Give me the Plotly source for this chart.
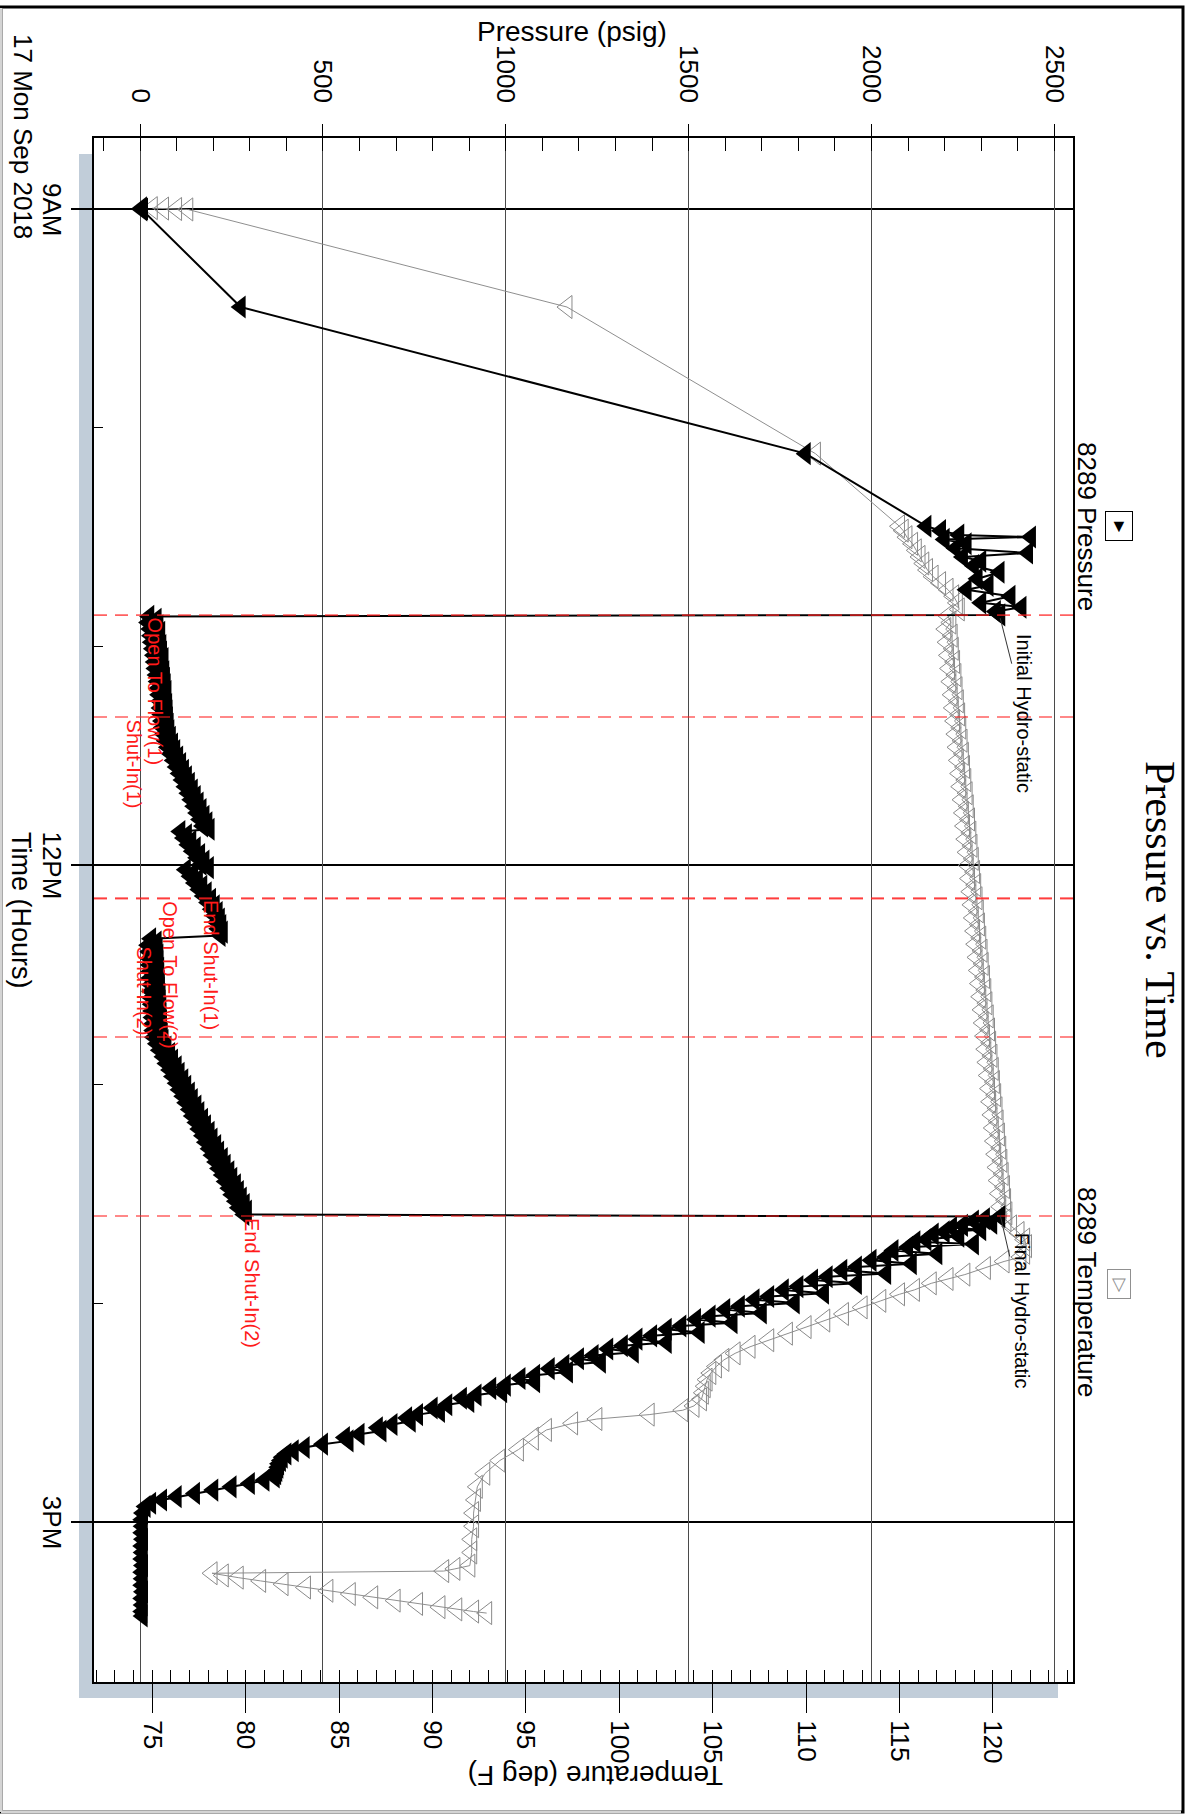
import plotly.graph_objects as go

# ---------------- data (time in decimal hours of 17 Sep 2018) ----------------
time_p = [8.995, 9.000, 9.004, 9.448, 10.118,
          10.45, 10.47, 10.49, 10.499, 10.51, 10.53, 10.55, 10.572, 10.59, 10.61, 10.63, 10.66,
          10.69, 10.72, 10.74, 10.77, 10.80, 10.82, 10.84, 10.855,
          # open to flow (1) / shut-in (1)
          10.862, 10.875, 10.89, 10.905, 10.92, 10.935, 10.95, 10.965, 10.98, 10.995, 11.01, 11.025,
          11.04, 11.055, 11.07, 11.085, 11.10, 11.115, 11.13, 11.145, 11.16, 11.175, 11.19, 11.205,
          11.22, 11.235, 11.25, 11.265, 11.28, 11.295, 11.31, 11.325, 11.34, 11.355, 11.37, 11.385,
          11.40, 11.415, 11.43, 11.445, 11.46, 11.475, 11.49, 11.505, 11.52, 11.535, 11.55, 11.565,
          11.58, 11.595, 11.61, 11.625, 11.64, 11.655, 11.67, 11.685, 11.70, 11.715, 11.73, 11.745,
          11.76, 11.775, 11.79, 11.805, 11.82, 11.835,
          11.845, 11.86, 11.875, 11.89, 11.905, 11.92, 11.935, 11.95, 11.965, 11.98, 11.995, 12.01,
          12.02, 12.035, 12.05, 12.065, 12.08, 12.095, 12.11, 12.125, 12.14, 12.155, 12.17, 12.185,
          12.20, 12.215, 12.23, 12.245, 12.26, 12.275, 12.29, 12.305, 12.32,
          # open to flow (2) / shut-in (2)
          12.335, 12.35, 12.365, 12.38, 12.395, 12.41, 12.425, 12.44, 12.455, 12.47, 12.485, 12.50,
          12.515, 12.53, 12.545, 12.56, 12.575, 12.59, 12.605, 12.62, 12.635, 12.65, 12.665, 12.68,
          12.695, 12.71, 12.725, 12.74, 12.755, 12.77, 12.785, 12.80, 12.815, 12.83, 12.845, 12.86,
          12.875, 12.89, 12.905, 12.92, 12.935, 12.95, 12.965, 12.98, 12.995, 13.01, 13.025, 13.04,
          13.055, 13.07, 13.085, 13.10, 13.115, 13.13, 13.145, 13.16, 13.175, 13.19, 13.205, 13.22,
          13.235, 13.25, 13.265, 13.28, 13.295, 13.31, 13.325, 13.34, 13.355, 13.37, 13.385, 13.40,
          13.415, 13.43, 13.445, 13.46, 13.475, 13.49, 13.505, 13.52, 13.535, 13.55, 13.565, 13.58,
          13.595,
          # final hydrostatic and pull out of hole
          13.605, 13.615, 13.625, 13.635, 13.645, 13.655, 13.665, 13.675, 13.685, 13.695, 13.71, 13.72,
          13.73, 13.745, 13.76, 13.775, 13.79, 13.805, 13.82, 13.835, 13.85, 13.865, 13.88, 13.895,
          13.91, 13.925, 13.94, 13.955, 13.97, 13.985, 14.00, 14.015, 14.03, 14.045, 14.06, 14.075,
          14.09, 14.105, 14.12, 14.135, 14.15, 14.165, 14.18, 14.195, 14.21, 14.225, 14.24, 14.255,
          14.27, 14.285, 14.30, 14.315, 14.33, 14.345, 14.36, 14.375, 14.39, 14.405, 14.42, 14.435,
          14.45, 14.465, 14.48, 14.495, 14.51, 14.525, 14.54, 14.555, 14.57, 14.585, 14.60, 14.615,
          14.63, 14.645, 14.66, 14.675, 14.69, 14.705, 14.72, 14.735, 14.75, 14.765, 14.78, 14.795,
          14.81, 14.825, 14.84, 14.855, 14.87, 14.885, 14.90, 14.915, 14.93,
          14.96, 14.99, 15.02, 15.05, 15.08, 15.11, 15.14, 15.17, 15.20, 15.23, 15.26, 15.29,
          15.32, 15.35, 15.38, 15.41, 15.43]
pressure = [5, 8, 6, 275, 1820,
            2150, 2190, 2240, 2436, 2200, 2260, 2230, 2428, 2250, 2300, 2280, 2350,
            2290, 2320, 2260, 2380, 2300, 2410, 2340, 2352,
            25, 45, 22, 50, 28, 55, 30, 52, 32, 58, 35, 60,
            38, 64, 40, 62, 42, 66, 45, 68, 48, 70, 50, 72,
            52, 70, 55, 74, 56, 75, 58, 76, 60, 78, 62, 80,
            65, 84, 70, 90, 76, 96, 84, 104, 92, 112, 100, 120,
            108, 128, 116, 136, 124, 144, 132, 152, 140, 160, 148, 168,
            156, 176, 164, 184, 172, 190,
            110, 128, 120, 140, 132, 152, 144, 164, 156, 176, 168, 188,
            125, 145, 138, 158, 150, 170, 162, 182, 174, 194, 186, 204,
            196, 212, 204, 218, 210, 222, 214, 226, 220,
            30, 45, 22, 48, 25, 50, 26, 50, 27, 52, 28, 52,
            28, 54, 30, 54, 30, 56, 31, 56, 32, 58, 33, 58,
            34, 60, 35, 60, 36, 62, 38, 64, 46, 72, 54, 82,
            64, 90, 72, 100, 82, 108, 90, 118, 100, 126, 108, 136,
            118, 144, 126, 154, 136, 162, 144, 172, 154, 180, 162, 190,
            172, 198, 180, 208, 190, 216, 198, 226, 208, 234, 216, 244,
            226, 252, 234, 262, 244, 270, 252, 278, 262, 286, 270, 292,
            285,
            2352, 2310, 2280, 2330, 2250, 2220, 2300, 2200, 2170, 2240, 2150, 2120,
            2280, 2100, 2060, 2180, 2040, 2000, 2110, 1960, 1920, 2040, 1880, 1840,
            1960, 1800, 1760, 1870, 1720, 1680, 1790, 1640, 1600, 1700, 1560, 1520,
            1620, 1480, 1440, 1530, 1400, 1360, 1440, 1320, 1280, 1350, 1240, 1200,
            1260, 1160, 1120, 1170, 1080, 1040, 1080, 1000, 960, 990, 920, 880,
            900, 840, 800, 820, 760, 730, 740, 690, 650, 660, 600, 560,
            570, 500, 450, 420, 400, 390, 385, 380, 378, 375, 372, 368,
            340, 300, 250, 200, 150, 100, 60, 30, 15,
            8, 6, 7, 6, 8, 6, 7, 6, 8, 6, 7, 6,
            8, 6, 7, 6, 7]

time_t = [8.996, 8.998, 9.000, 9.002, 9.448, 10.118,
          10.45, 10.47, 10.50, 10.53, 10.56, 10.59, 10.62, 10.65, 10.68, 10.71, 10.74, 10.77,
          10.80, 10.83, 10.86,
          10.89, 10.92, 10.95, 10.98, 11.01, 11.04, 11.07, 11.10, 11.13, 11.16, 11.19, 11.22,
          11.25, 11.28, 11.31, 11.34, 11.37, 11.40, 11.43, 11.46, 11.49, 11.52, 11.55, 11.58,
          11.61, 11.64, 11.67, 11.70, 11.73, 11.76, 11.79, 11.82, 11.85, 11.88, 11.91, 11.94,
          11.97, 12.00, 12.03, 12.06, 12.09, 12.12, 12.15, 12.18, 12.21, 12.24, 12.27, 12.30,
          12.33, 12.36, 12.39, 12.42, 12.45, 12.48, 12.51, 12.54, 12.57, 12.60, 12.63, 12.66,
          12.69, 12.72, 12.75, 12.78, 12.81, 12.84, 12.87, 12.90, 12.93, 12.96, 12.99, 13.02,
          13.05, 13.08, 13.11, 13.14, 13.17, 13.20, 13.23, 13.26, 13.29, 13.32, 13.35, 13.38,
          13.41, 13.44, 13.47, 13.50, 13.53, 13.56, 13.59,
          13.62, 13.65, 13.68, 13.71, 13.74, 13.77, 13.79, 13.81, 13.84, 13.87, 13.89, 13.91,
          13.94, 13.96, 13.99, 14.02, 14.05, 14.08, 14.11, 14.14, 14.17, 14.20, 14.23, 14.26,
          14.29, 14.32, 14.35, 14.38, 14.41, 14.44, 14.47, 14.49, 14.51, 14.53, 14.55, 14.58,
          14.62, 14.67, 14.72, 14.78, 14.84, 14.90, 14.96, 15.02, 15.08, 15.14, 15.20, 15.215,
          15.225, 15.235, 15.245, 15.255, 15.27, 15.285, 15.30, 15.315, 15.33, 15.345, 15.36,
          15.375, 15.39, 15.40, 15.41, 15.417]
temperature = [75.0, 75.6, 76.3, 76.9, 97.2, 110.5,
               115.0, 115.2, 115.4, 115.7, 115.9, 116.1, 116.3, 116.5, 116.8, 117.2, 117.6, 117.9,
               118.1, 118.2, 117.6,
               117.75, 117.48, 117.82, 117.55, 117.88, 117.62, 117.95, 117.68, 118.02, 117.75, 118.08, 117.82,
               118.15, 117.88, 118.22, 117.95, 118.28, 118.02, 118.35, 118.08, 118.42, 118.15, 118.48, 118.22,
               118.55, 118.28, 118.62, 118.35, 118.68, 118.42, 118.75, 118.48, 118.82, 118.55, 118.88, 118.62,
               118.95, 118.68, 119.02, 118.75, 119.08, 118.82, 119.15, 118.88, 119.22, 118.95, 119.28, 119.02,
               119.35, 119.08, 119.42, 119.15, 119.48, 119.22, 119.55, 119.28, 119.62, 119.35, 119.68, 119.42,
               119.75, 119.48, 119.82, 119.55, 119.88, 119.62, 119.95, 119.68, 120.02, 119.75, 120.08, 119.82,
               120.15, 119.88, 120.22, 119.95, 120.28, 120.02, 120.35, 120.08, 120.42, 120.15, 120.48, 120.22,
               120.55, 120.28, 120.62, 120.35, 120.68, 120.42, 120.75,
               120.7, 121.0, 121.4, 121.7, 121.8, 121.7, 121.5, 120.6, 119.6, 118.5, 117.6, 116.7,
               115.8, 115.0, 114.0, 113.0, 112.0, 111.0, 110.0, 109.0, 108.0, 107.0, 106.2, 105.6,
               105.2, 104.9, 104.7, 104.6, 104.5, 104.4, 104.0, 103.4, 101.6, 98.8, 97.5, 96.1,
               95.4, 94.6, 93.6, 92.8, 92.4, 92.3, 92.2, 92.2, 92.1, 92.1, 92.0, 91.2,
               90.6, 78.2, 78.8, 79.6, 80.8, 82.0, 83.2, 84.4, 85.6, 86.8, 88.0,
               89.2, 90.4, 91.3, 92.2, 92.9]

event_times = [10.856, 11.322, 12.149, 12.152, 12.784, 13.602]
event_labels = ["Open To Flow(1)", "Shut-In(1)", "End Shut-In(1)", "Open To Flow(2)", "Shut-In(2)", "End Shut-In(2)"]
hydro_labels = ["Initial Hydro-static", "Final Hydro-static"]
hydro_times = [10.87, 13.598]
hydro_pressure = [2352, 2352]

time_ticks = [9, 12, 15]
time_ticktext = ["9AM", "12PM", "3PM"]
pressure_ticks = [0, 500, 1000, 1500, 2000, 2500]
temp_ticks = [75, 80, 85, 90, 95, 100, 105, 110, 115, 120]

# ---------------- geometry helpers (pixel -> paper) ----------------
W, H = 1194, 1814
L, R, T, B = 94, 1073, 138, 1682


def px(X):
    return (X - L) / (R - L)


def py(Y):
    return (B - Y) / (B - T)


SANS = "Liberation Sans, Arial, sans-serif"
SERIF = "Liberation Serif, Times New Roman, serif"

fig = go.Figure()

fig.add_trace(go.Scatter(
    x=temperature, y=time_t, xaxis="x", yaxis="y", mode="lines+markers",
    line=dict(color="#8f8f8f", width=1),
    marker=dict(symbol="triangle-left-open", size=20, color="#8a8a8a", line=dict(width=1)),
    name="8289 Temperature", showlegend=False, hoverinfo="skip"))

fig.add_trace(go.Scatter(
    x=pressure, y=time_p, xaxis="x2", yaxis="y", mode="lines+markers",
    line=dict(color="black", width=2),
    marker=dict(symbol="triangle-left", size=20, color="black"),
    name="8289 Pressure", showlegend=False, hoverinfo="skip"))

# overlay axis used only for the inner half of the major temperature ticks
fig.add_trace(go.Scatter(x=[], y=[], xaxis="x3", yaxis="y", showlegend=False))

fig.update_layout(
    width=W, height=H, autosize=False,
    margin=dict(l=L, r=W - R, t=T, b=H - B, pad=0),
    paper_bgcolor="white", plot_bgcolor="white",
    font=dict(family=SANS, size=26, color="black"),
    showlegend=False,
    xaxis=dict(
        range=[71.88, 124.29], side="bottom", tickmode="array", tickvals=temp_ticks,
        ticks="outside", ticklen=29, tickwidth=1, tickcolor="black",
        tickangle=90, tickfont=dict(size=26, family=SANS), ticklabelstandoff=2,
        showgrid=False, zeroline=False, showline=True, linewidth=2, linecolor="black",
        minor=dict(ticks="inside", ticklen=12, dtick=1, tick0=75, tickcolor="black", tickwidth=1, showgrid=False),
    ),
    xaxis3=dict(
        range=[71.88, 124.29], overlaying="x", side="bottom", anchor="y", tickmode="array",
        tickvals=temp_ticks, ticks="inside", ticklen=12, tickcolor="black", tickwidth=1,
        showticklabels=False, showgrid=False, zeroline=False, showline=False,
    ),
    xaxis2=dict(
        range=[-126, 2551], overlaying="x", side="top", anchor="y", tickmode="array",
        tickvals=pressure_ticks, ticks="outside", ticklen=12, tickwidth=1, tickcolor="black",
        tickangle=90, tickfont=dict(size=26, family=SANS), ticklabelstandoff=12,
        showgrid=True, gridcolor="#4a4a4a", gridwidth=1, zeroline=False,
        showline=True, linewidth=2, linecolor="black",
        minor=dict(ticks="inside", ticklen=13, dtick=100, tick0=0, tickcolor="black", tickwidth=1, showgrid=False),
    ),
    yaxis=dict(
        range=[15.732, 8.6755], tickmode="array", tickvals=time_ticks, ticktext=time_ticktext,
        ticks="outside", ticklen=21, tickwidth=2, tickcolor="black", showticklabels=False,
        showgrid=True, gridcolor="black", gridwidth=2, zeroline=False,
        showline=True, linewidth=2, linecolor="black", mirror=True,
        minor=dict(ticks="inside", ticklen=9, dtick=1, tick0=9, tickcolor="black", tickwidth=1, showgrid=False),
    ),
)

shapes = []
# drop shadow strips left and below the plot frame
shadow = "#c1cdd9"
shapes.append(dict(type="rect", xref="paper", yref="paper", x0=px(79), x1=px(L - 1), y0=py(1698), y1=py(154),
                   fillcolor=shadow, line=dict(width=0), layer="below"))
shapes.append(dict(type="rect", xref="paper", yref="paper", x0=px(79), x1=px(1058), y0=py(1698), y1=py(B + 1),
                   fillcolor=shadow, line=dict(width=0), layer="below"))
# outer frame
shapes.append(dict(type="rect", xref="paper", yref="paper", x0=px(1), x1=px(1183), y0=py(1812), y1=py(7),
                   line=dict(color="black", width=3), fillcolor="rgba(0,0,0,0)", layer="below"))
shapes.append(dict(type="line", xref="paper", yref="paper", x0=px(1), x1=px(1), y0=py(8), y1=py(1812),
                   line=dict(color="#d4d4d4", width=3)))
shapes.append(dict(type="line", xref="paper", yref="paper", x0=px(1), x1=px(1181), y0=py(1812), y1=py(1812),
                   line=dict(color="#d4d4d4", width=3)))
# event lines
for t in event_times:
    shapes.append(dict(type="line", xref="paper", yref="y", x0=0, x1=1, y0=t, y1=t,
                       line=dict(color="rgba(255,30,30,0.7)", width=1.6, dash="13px,8px")))
fig.update_layout(shapes=shapes)

ann = []
ann.append(dict(text="Pressure vs. Time", x=px(1160), y=py(910), xref="paper", yref="paper",
                textangle=90, showarrow=False, font=dict(family=SERIF, size=42, color="black"),
                xanchor="center", yanchor="middle"))
ann.append(dict(text="Pressure (psig)", x=px(572), y=py(32), xref="paper", yref="paper",
                showarrow=False, font=dict(size=28), xanchor="center", yanchor="middle"))
ann.append(dict(text="Temperature (deg F)", x=px(596), y=py(1776), xref="paper", yref="paper",
                textangle=180, showarrow=False, font=dict(size=28), xanchor="center", yanchor="middle"))
ann.append(dict(text="Time (Hours)", x=px(21), y=py(910), xref="paper", yref="paper",
                textangle=90, showarrow=False, font=dict(size=27), xanchor="center", yanchor="middle"))
ann.append(dict(text="17 Mon Sep 2018", x=px(23), y=py(136), xref="paper", yref="paper",
                textangle=90, showarrow=False, font=dict(size=26), xanchor="center", yanchor="middle"))
# time tick labels, centred on their ticks
for tv, tt in zip(time_ticks, time_ticktext):
    ann.append(dict(text=tt, x=px(52), y=tv, xref="paper", yref="y", textangle=90, showarrow=False,
                    font=dict(size=26), xanchor="center", yanchor="middle"))
ann.append(dict(text="8289 Pressure", x=px(1087), y=py(526), xref="paper", yref="paper",
                textangle=90, showarrow=False, font=dict(size=26), xanchor="center", yanchor="middle"))
ann.append(dict(text="8289 Temperature", x=px(1087), y=py(1292), xref="paper", yref="paper",
                textangle=90, showarrow=False, font=dict(size=26), xanchor="center", yanchor="middle"))
ann.append(dict(text="\u25bc", x=px(1119), y=py(526), xref="paper", yref="paper", showarrow=False,
                font=dict(size=18, color="black"), bordercolor="black", borderwidth=1, borderpad=4,
                xanchor="center", yanchor="middle"))
ann.append(dict(text="\u25bd", x=px(1119), y=py(1284), xref="paper", yref="paper", showarrow=False,
                font=dict(size=18, color="#909090"), bordercolor="#909090", borderwidth=1, borderpad=4,
                xanchor="center", yanchor="middle"))

# event labels: (x pixel centre, anchor)
label_pos = [(155, "top"), (134, "top"), (211, "top"), (170, "top"), (144, "bottom"), (252, "top")]
for lab, t, (xc, anc) in zip(event_labels, event_times, label_pos):
    ann.append(dict(text=lab, x=px(xc), y=t, xref="paper", yref="y", textangle=90, showarrow=False,
                    font=dict(size=20, color="#ff1a1a"), xanchor="center", yanchor=anc))

hydro_offsets = [(24, 95), (22, 96)]
for lab, t, p, (ax, ay) in zip(hydro_labels, hydro_times, hydro_pressure, hydro_offsets):
    ann.append(dict(text=lab, x=p, y=t, xref="x2", yref="y", textangle=90, showarrow=True,
                    arrowhead=0, arrowwidth=1, arrowcolor="#333333", ax=ax, ay=ay,
                    font=dict(size=20, color="black")))

fig.update_layout(annotations=ann)

fig.write_html("out.html", config={"displayModeBar": False},
               post_script="document.body.style.margin='0px';document.body.style.overflow='hidden';")
